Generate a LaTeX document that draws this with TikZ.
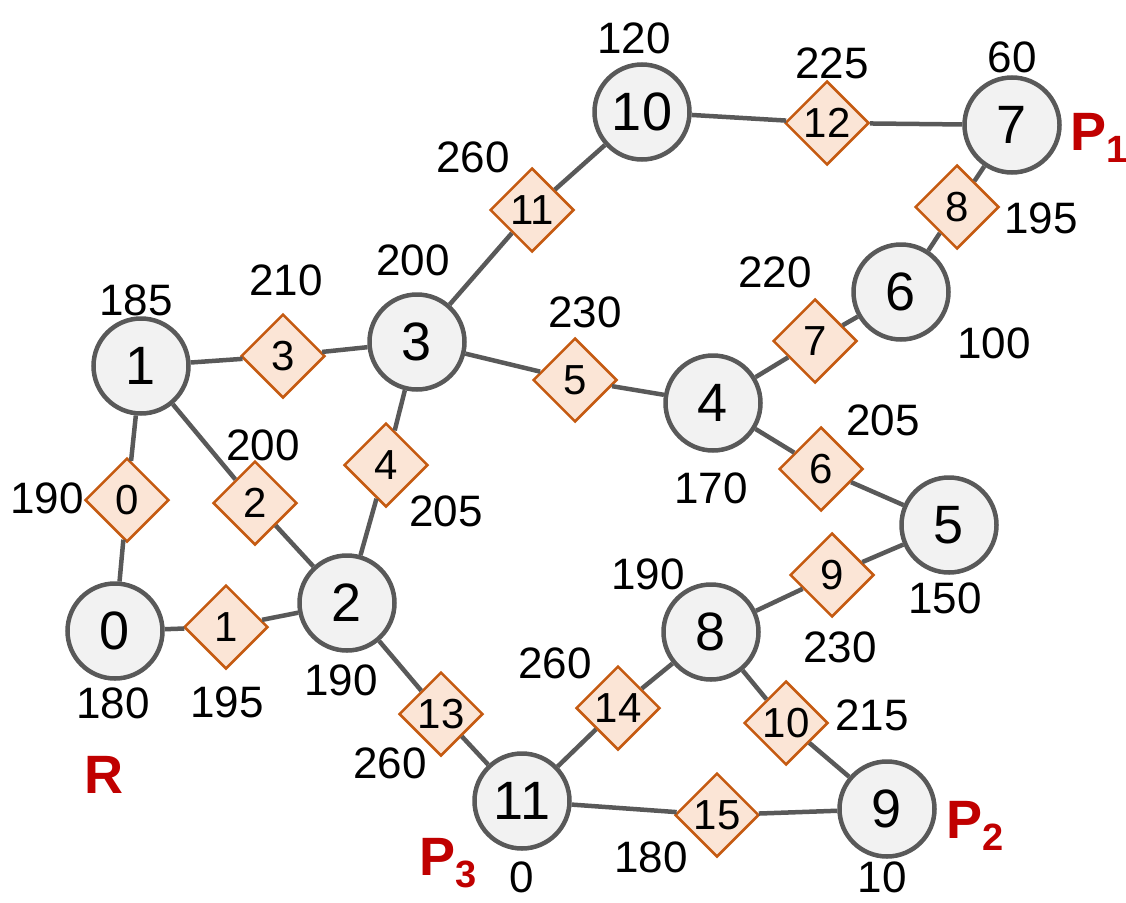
\documentclass[tikz,border=0pt]{standalone}
\usepackage{fontspec}
\setmainfont{Liberation Sans}
\usetikzlibrary{shapes.geometric}
\definecolor{edgegray}{HTML}{595959}
\definecolor{nodefill}{HTML}{F2F2F2}
\definecolor{dborder}{HTML}{C55A11}
\definecolor{dfill}{HTML}{FBE5D6}
\definecolor{plabel}{HTML}{C00000}
\tikzset{
  vtx/.style={circle, draw=edgegray, line width=4.5pt, fill=nodefill, minimum size=95pt, inner sep=0pt, font=\fontsize{54}{60}\selectfont},
  lnk/.style={diamond, draw=dborder, line width=2.5pt, fill=dfill, minimum size=84pt, inner sep=0pt, font=\fontsize{42}{48}\selectfont},
  wlab/.style={anchor=base, inner sep=0pt, font=\fontsize{44}{50}\selectfont},
  plab/.style={anchor=base west, inner sep=0pt, text=plabel, font=\bfseries\fontsize{54}{60}\selectfont},
  conn/.style={draw=edgegray, line width=4.5pt}
}
\newcommand{\psub}[1]{\raisebox{-0.24em}{\fontsize{38}{40}\selectfont #1}}
\begin{document}
\begin{tikzpicture}[x=1pt,y=-1pt]
\useasboundingbox (0,0) rectangle (1126,902);
% vertices
\node[vtx] (n0) at (115,631) {0};
\node[vtx] (n1) at (141,366) {1};
\node[vtx] (n2) at (347,603) {2};
\node[vtx] (n3) at (417,342) {3};
\node[vtx] (n4) at (713,403) {4};
\node[vtx] (n5) at (949,525) {5};
\node[vtx] (n6) at (901,292) {6};
\node[vtx] (n7) at (1012,125) {7};
\node[vtx] (n8) at (711,632) {8};
\node[vtx] (n9) at (887,809) {9};
\node[vtx] (n10) at (642,112) {10};
\node[vtx] (n11) at (522,801) {11};
% links
\node[lnk] (d0) at (127,500) {0};
\node[lnk] (d1) at (226,627) {1};
\node[lnk] (d2) at (255,503) {2};
\node[lnk] (d3) at (283,356) {3};
\node[lnk] (d4) at (386,465) {4};
\node[lnk] (d5) at (575,380) {5};
\node[lnk] (d6) at (821,469) {6};
\node[lnk] (d7) at (815,341) {7};
\node[lnk] (d8) at (957,207) {8};
\node[lnk] (d9) at (832,575) {9};
\node[lnk] (d10) at (786,723) {10};
\node[lnk] (d11) at (532,210) {11};
\node[lnk] (d12) at (827,123) {12};
\node[lnk] (d13) at (441,714) {13};
\node[lnk] (d14) at (618,708) {14};
\node[lnk] (d15) at (717,815) {15};
% connectors
\path[conn] (n1) -- (d0) (d0) -- (n0);
\path[conn] (n0) -- (d1) (d1) -- (n2);
\path[conn] (n1) -- (d2) (d2) -- (n2);
\path[conn] (n1) -- (d3) (d3) -- (n3);
\path[conn] (n2) -- (d4) (d4) -- (n3);
\path[conn] (n3) -- (d5) (d5) -- (n4);
\path[conn] (n4) -- (d6) (d6) -- (n5);
\path[conn] (n4) -- (d7) (d7) -- (n6);
\path[conn] (n6) -- (d8) (d8) -- (n7);
\path[conn] (n5) -- (d9) (d9) -- (n8);
\path[conn] (n8) -- (d10) (d10) -- (n9);
\path[conn] (n3) -- (d11) (d11) -- (n10);
\path[conn] (n10) -- (d12) (d12) -- (n7);
\path[conn] (n2) -- (d13) (d13) -- (n11);
\path[conn] (n11) -- (d14) (d14) -- (n8);
\path[conn] (n11) -- (d15) (d15) -- (n9);
% weight labels
\node[wlab] (w1) at (136,315) {185};
\node[wlab] (w3l) at (286,295) {210};
\node[wlab] (w2l) at (263,460) {200};
\node[wlab] (w0l) at (47,513) {190};
\node[wlab] (w3) at (413,275) {200};
\node[wlab] (w5l) at (585,327) {230};
\node[wlab] (w7l) at (775,287) {220};
\node[wlab] (w4l) at (446,526) {205};
\node[wlab] (w4) at (711,503) {170};
\node[wlab] (w6l) at (883,435) {205};
\node[wlab] (w5) at (945,613) {150};
\node[wlab] (w8) at (648,589) {190};
\node[wlab] (w9l) at (840,662) {230};
\node[wlab] (w0) at (113,718) {180};
\node[wlab] (w1l) at (227,717) {195};
\node[wlab] (w2) at (341,695) {190};
\node[wlab] (w13l) at (390,778) {260};
\node[wlab] (w14l) at (555,678) {260};
\node[wlab] (w10l) at (872,730) {215};
\node[wlab] (w10) at (634,53) {120};
\node[wlab] (w11l) at (473,172) {260};
\node[wlab] (w12l) at (832,78) {225};
\node[wlab] (w7) at (1012,72) {60};
\node[wlab] (w8l) at (1041,233) {195};
\node[wlab] (w6) at (994,358) {100};
\node[wlab] (w15l) at (651,872) {180};
\node[wlab] (w11) at (522,892) {0};
\node[wlab] (w9) at (882,892) {10};
% roles
\node[plab, anchor=base] (R) at (104,793) {R};
\node[plab] (P1) at (1070,150) {P\psub{1}};
\node[plab] (P2) at (946,838) {P\psub{2}};
\node[plab] (P3) at (419,875) {P\psub{3}};
\end{tikzpicture}
\end{document}
